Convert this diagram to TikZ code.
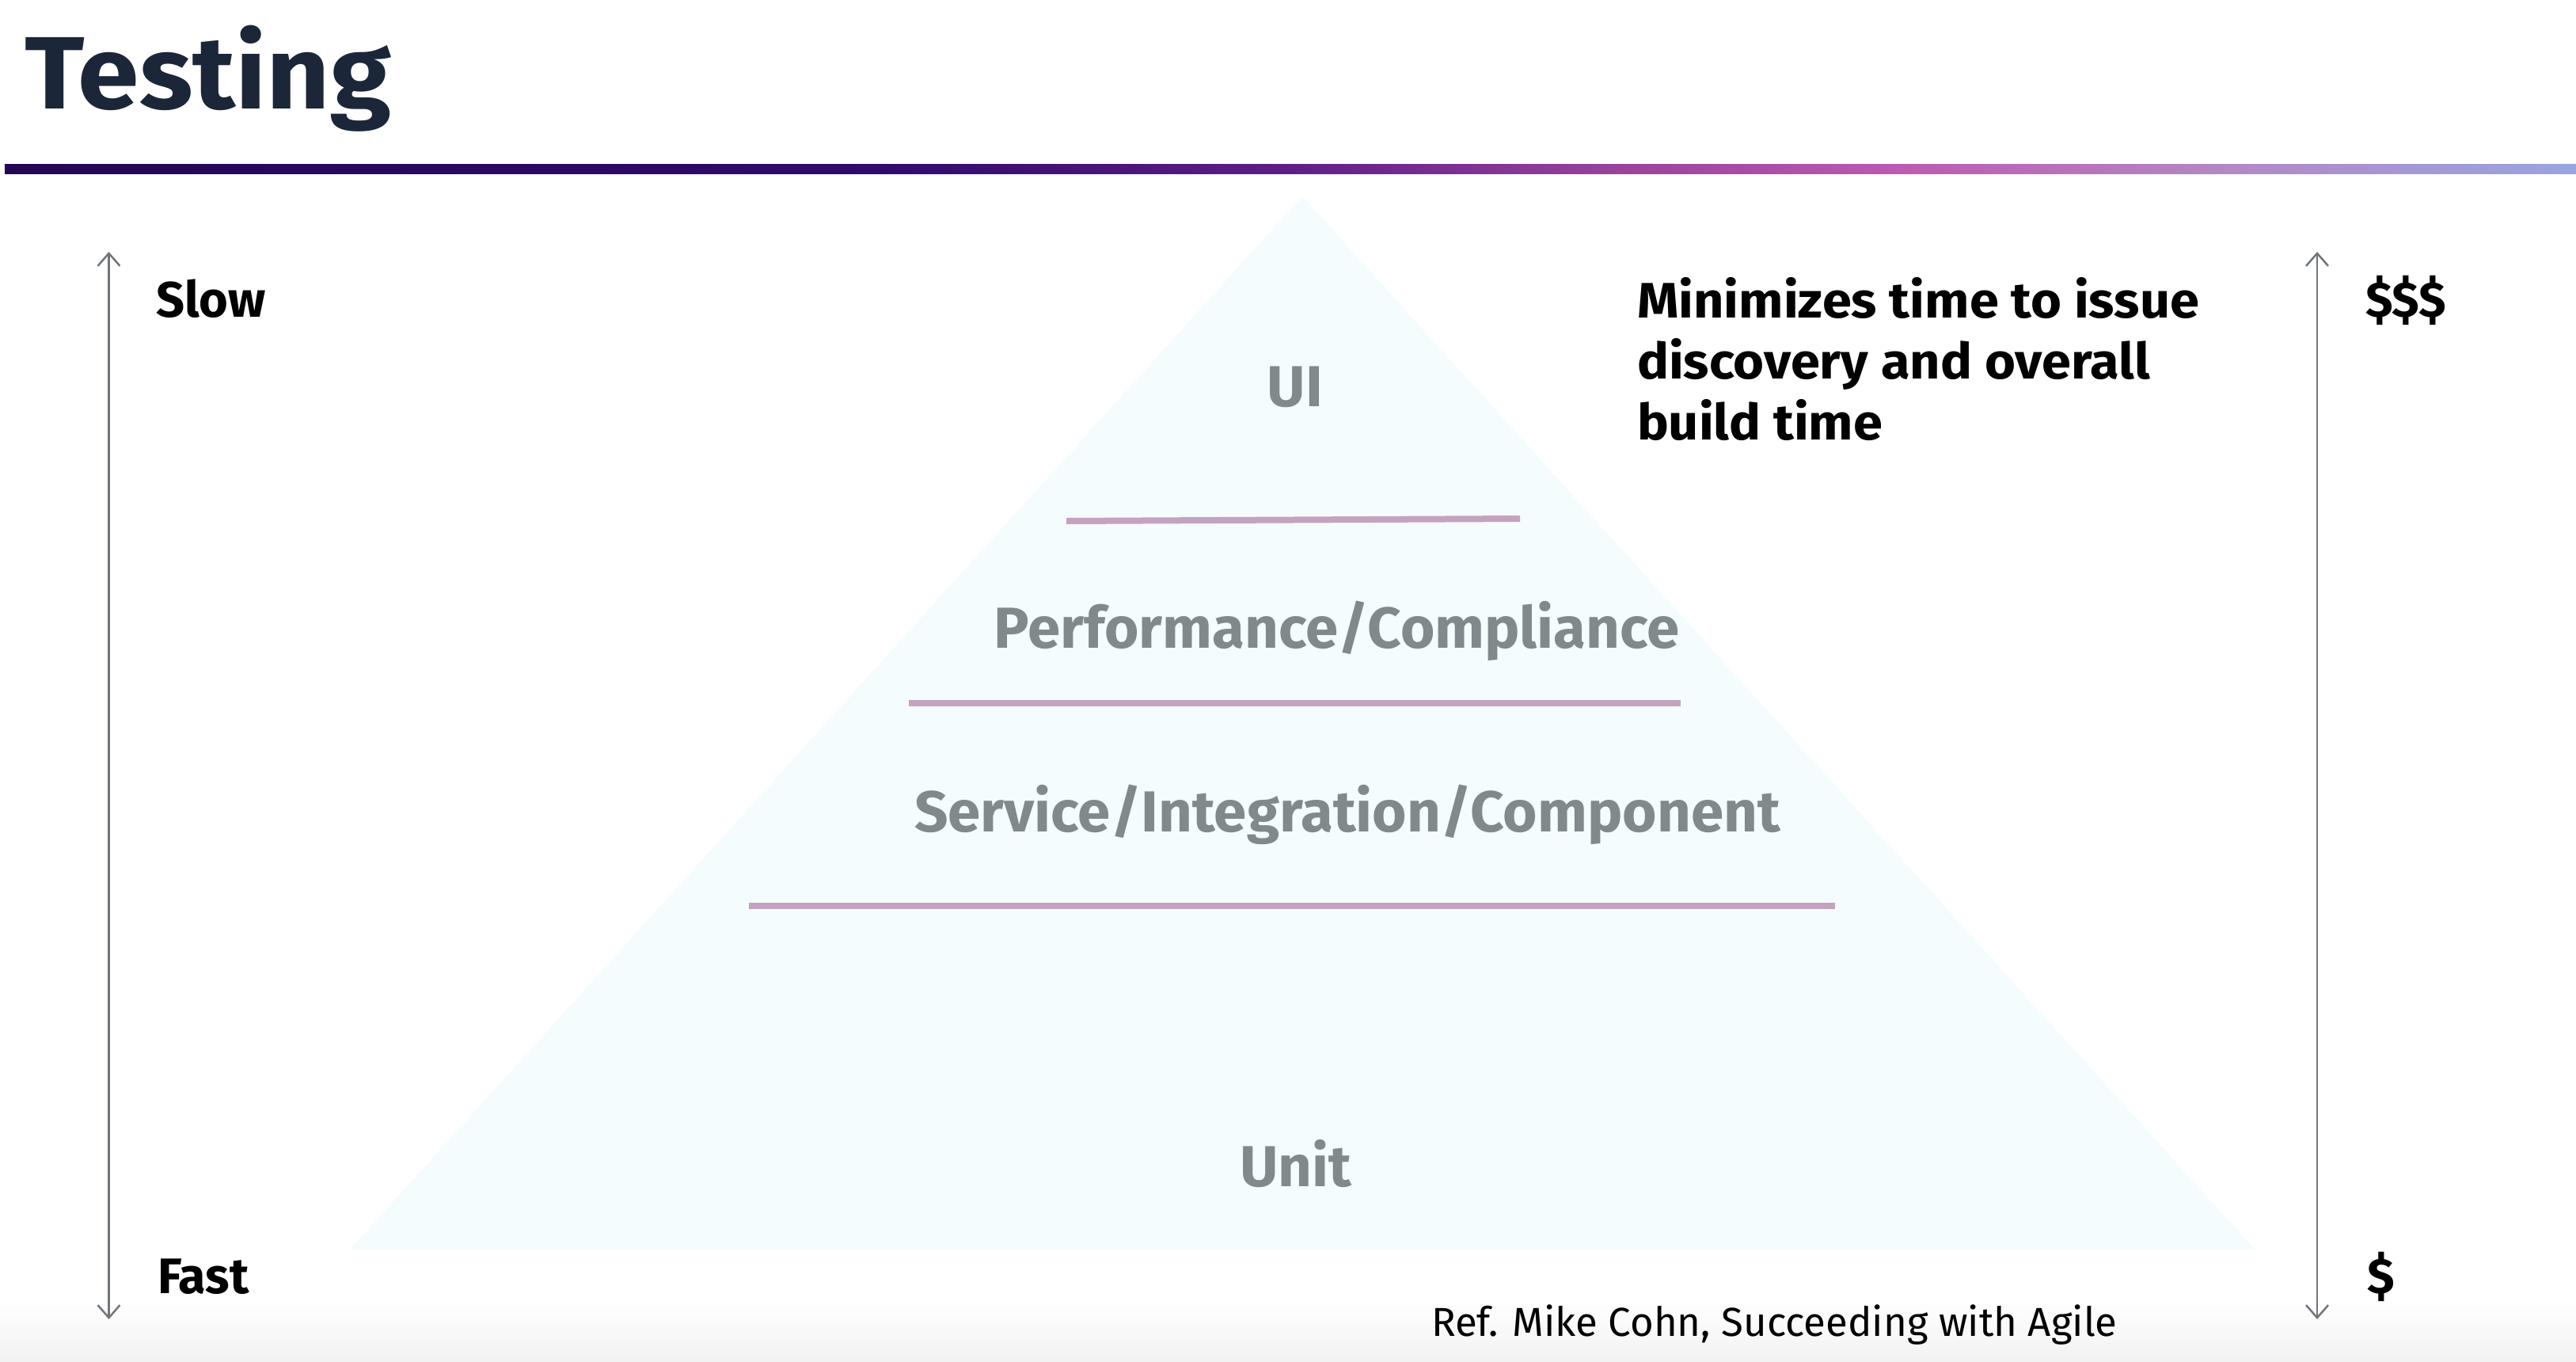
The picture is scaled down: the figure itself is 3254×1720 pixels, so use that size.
\documentclass[tikz,border=0pt]{standalone}
\usepackage{fontspec}
\setmainfont{Fira Sans}
\usetikzlibrary{arrows.meta}

\definecolor{titleink}{RGB}{27,39,57}
\definecolor{axisgray}{RGB}{112,118,123}
\definecolor{layerink}{RGB}{128,137,139}
\definecolor{layerrule}{RGB}{196,163,193}
\definecolor{pyrfill}{RGB}{244,252,253}
\definecolor{footgray}{RGB}{242,242,242}

% header rule: deep indigo through magenta to periwinkle
\pgfdeclarehorizontalshading{headerbar}{100bp}{%
  rgb(0bp)=(0.141,0.031,0.329);
  rgb(25bp)=(0.141,0.031,0.329);
  rgb(42bp)=(0.188,0.039,0.424);
  rgb(50bp)=(0.373,0.118,0.529);
  rgb(56bp)=(0.588,0.255,0.608);
  rgb(62bp)=(0.737,0.361,0.698);
  rgb(68bp)=(0.706,0.529,0.765);
  rgb(75bp)=(0.596,0.647,0.882);
  rgb(100bp)=(0.596,0.647,0.882)}

\tikzset{
  plain/.style={inner sep=0pt, outer sep=0pt},
  sidelabel/.style={plain, anchor=base west, text=black,
    font=\fontsize{63}{77}\selectfont\bfseries},
  notelabel/.style={sidelabel,
    font=\fontsize{63}{77}\selectfont\bfseries\addfontfeatures{FakeStretch=1.06}},
  layerlabel/.style={plain, anchor=base, text=layerink,
    font=\fontsize{73}{88}\selectfont\bfseries\addfontfeatures{FakeStretch=1.02}},
  layerline/.style={draw=layerrule, line width=8pt},
  axisarrow/.style={draw=axisgray, line width=2.5pt,
    {Straight Barb[length=16pt,width=28pt]}-{Straight Barb[length=16pt,width=28pt]}},
}

\begin{document}
\begin{tikzpicture}[x=1pt, y=-1pt]
  \useasboundingbox (0,0) rectangle (3254,1720);
  \fill[white] (0,0) rectangle (3254,1720);

  % soft grey fade along the bottom edge
  \shade[top color=white, bottom color=footgray] (0,1640) rectangle (3254,1720);

  % title and header rule
  \node[plain, anchor=base west, text=titleink,
        font=\fontsize{130}{150}\selectfont\bfseries\addfontfeatures{FakeStretch=1.075}]
        (title) at (31,138) {Testing};
  \shade[shading=headerbar] (6,208) rectangle (3254,220);

  % pyramid
  \coordinate (apex) at (1645,248);
  \coordinate (baseL) at (442,1578);
  \coordinate (baseR) at (2848,1578);
  \fill[pyrfill] (apex) -- (baseR) -- (baseL) -- cycle;

  % layer dividers
  \coordinate (r1a) at (1347,658); \coordinate (r1b) at (1920,655);
  \coordinate (r2a) at (1148,888); \coordinate (r2b) at (2123,888);
  \coordinate (r3a) at (946,1144); \coordinate (r3b) at (2318,1144);
  \draw[layerline] (r1a) -- (r1b);
  \draw[layerline] (r2a) -- (r2b);
  \draw[layerline] (r3a) -- (r3b);

  % layer names
  \node[layerlabel] (ui)   at (1636,513)  {UI};
  \node[layerlabel] (perf) at (1689,818)  {Performance/Compliance};
  \node[layerlabel] (svc)  at (1702,1050) {Service/Integration/Component};
  \node[layerlabel] (unit) at (1637,1498) {Unit};

  % speed axis
  \coordinate (spdTop) at (137.5,318);
  \coordinate (spdBot) at (137.5,1666);
  \draw[axisarrow] (spdBot) -- (spdTop);
  \node[sidelabel] (slow) at (197,400)  {Slow};
  \node[sidelabel] (fast) at (199,1633) {Fast};

  % cost axis
  \coordinate (costTop) at (2927,318);
  \coordinate (costBot) at (2927,1666);
  \draw[axisarrow] (costBot) -- (costTop);
  \node[sidelabel] (costHi) at (2988,400)  {\$\$\$};
  \node[sidelabel] (costLo) at (2990,1633) {\$};

  % note
  \node[notelabel] (min1) at (2068,401) {Minimizes time to issue};
  \node[notelabel] (min2) at (2068,478) {discovery and overall};
  \node[notelabel] (min3) at (2068,555) {build time};

  % reference
  \node[plain, anchor=base west, text=black,
        font=\fontsize{51}{60}\selectfont] (ref) at (1808,1687)
        {Ref. Mike Cohn, Succeeding with Agile};
\end{tikzpicture}
\end{document}
